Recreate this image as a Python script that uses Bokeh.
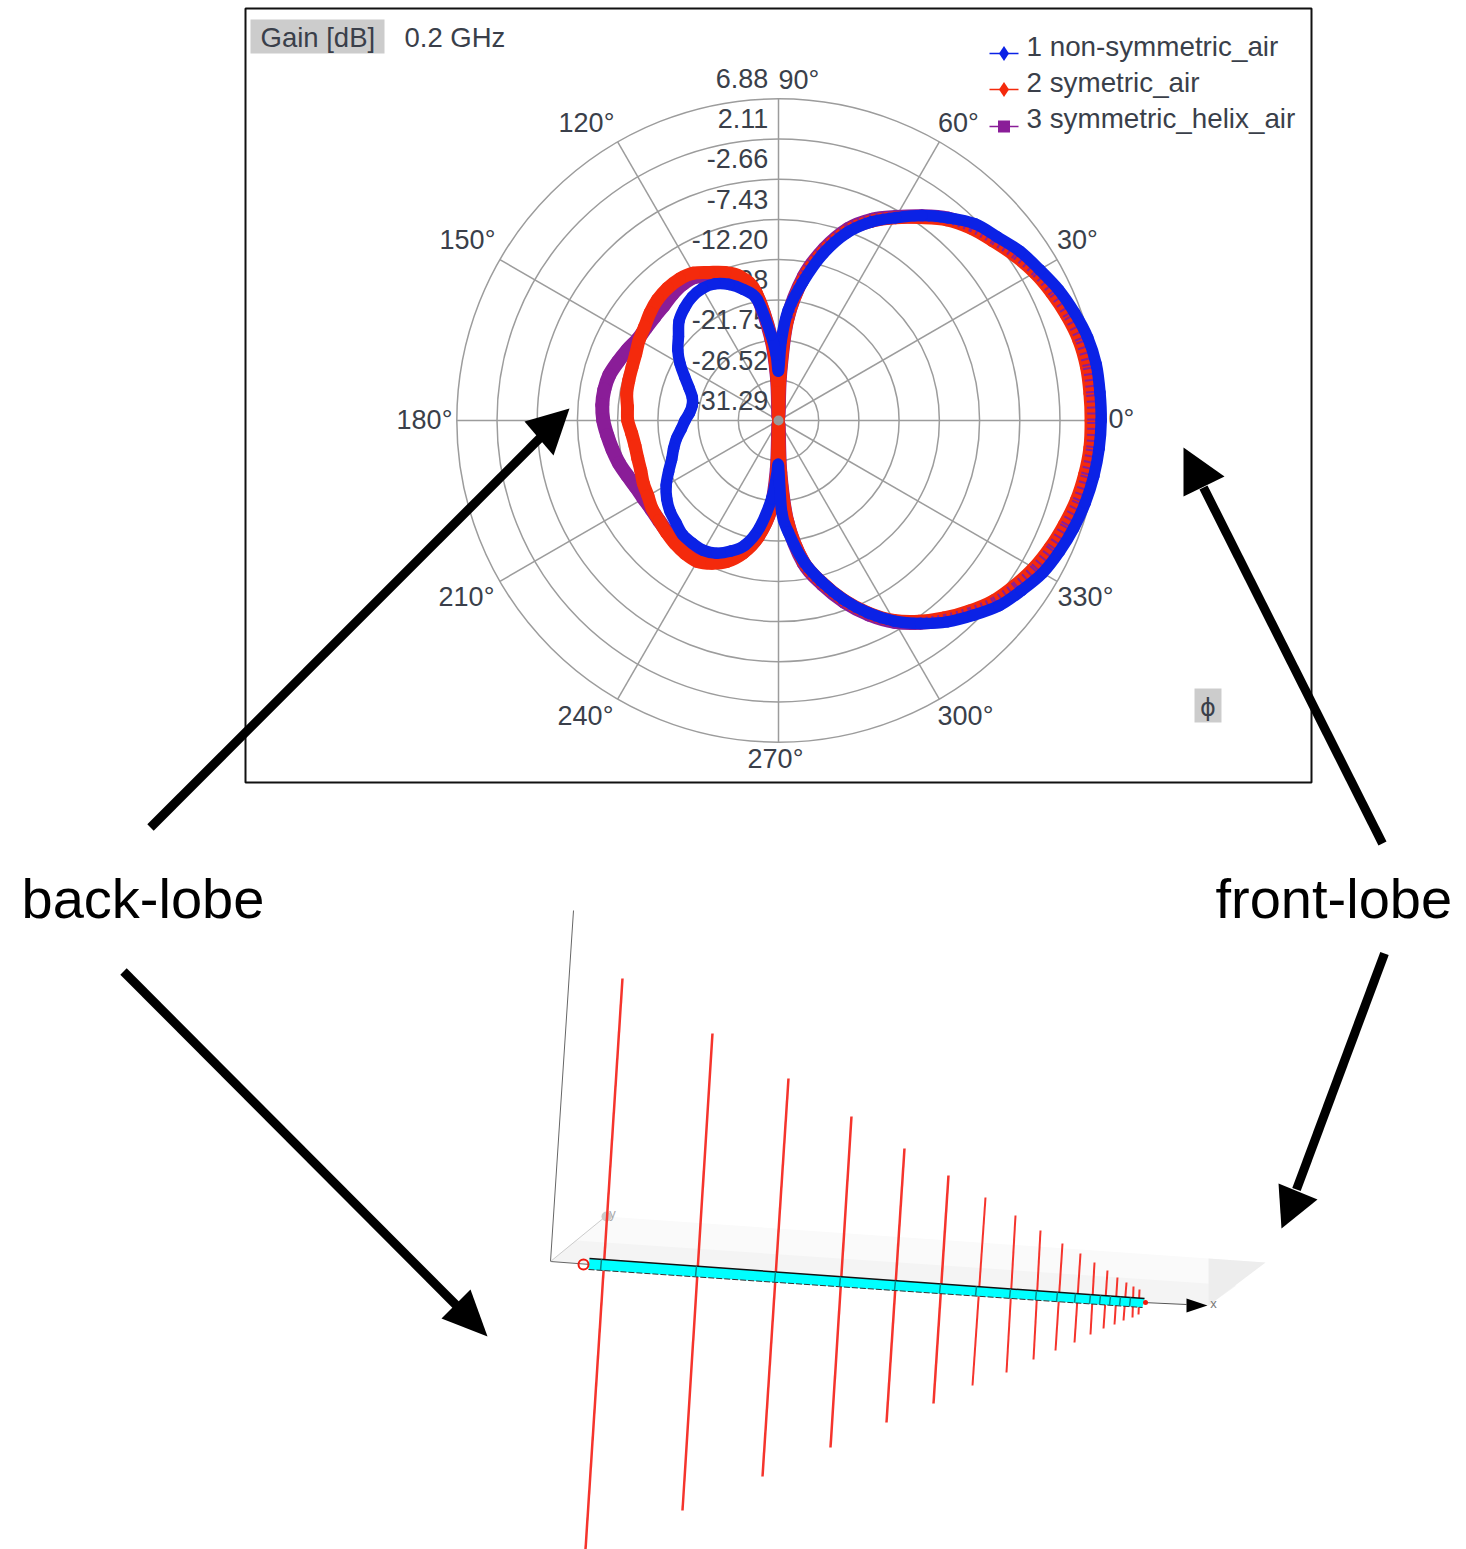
import numpy as np
from bokeh.plotting import figure
from bokeh.models import Range1d
from bokeh.core.properties import value
from bokeh.embed import file_html
from bokeh.resources import INLINE

# ---------- chart data ----------
ANGLES = [0,5,10,15,20,25,30,35,40,45,50,55,60,65,70,75,80,85,88,90,92,95,100,105,110,115,120,125,130,135,140,145,150,155,160,165,170,175,
          180,185,190,195,200,205,210,215,220,225,230,235,240,245,250,255,260,265,268,270,272,275,280,285,290,295,300,305,310,315,320,325,330,335,340,345,350,355]
NON_SYMMETRIC = [7.0,7.0,7.0,6.7,6.1,5.4,4.5,3.7,2.6,1.7,0.1,-1.6,-3.5,-5.3,-7.6,-10.8,-14.6,-18.2,-21.8,-25.4,-23.5,-21.1,-16.7,-15.2,-14.1,-13.4,-13.2,-13.4,-13.9,-14.6,-15.8,-16.7,-17.8,-19.0,-20.0,-20.7,-20.9,-20.7,
                 -20.2,-19.7,-19.0,-18.4,-17.8,-16.9,-15.9,-15.1,-14.5,-14.1,-13.6,-13.5,-13.5,-13.9,-14.8,-16.0,-18.4,-22.0,-24.7,-25.9,-20.4,-18.0,-14.4,-11.5,-8.7,-6.1,-3.8,-1.9,-0.1,1.4,2.9,3.9,4.9,5.5,6.0,6.4,6.7,6.9]
SYMETRIC = [5.8,5.8,5.8,5.6,5.1,4.5,3.8,2.9,1.9,1.0,-0.2,-1.9,-3.5,-5.2,-7.3,-10.4,-14.1,-19.4,-26.0,-31.0,-26.5,-21.6,-15.8,-13.6,-12.6,-11.9,-11.1,-10.8,-10.8,-11.0,-11.4,-11.9,-12.2,-12.6,-12.8,-12.9,-13.0,-13.3,
            -13.4,-13.8,-14.0,-14.0,-13.9,-13.6,-13.4,-13.0,-12.8,-12.5,-12.2,-12.0,-12.0,-12.6,-13.5,-15.0,-17.2,-20.6,-25.3,-30.9,-25.3,-19.4,-14.3,-11.4,-8.6,-6.1,-3.9,-2.2,-0.7,0.7,2.0,2.9,3.7,4.3,4.8,5.3,5.6,5.8]
SYMMETRIC_HELIX = [6.0,6.0,6.0,5.8,5.3,4.7,4.0,3.1,2.1,1.2,0.0,-1.7,-3.4,-5.0,-7.1,-10.2,-13.9,-19.2,-25.8,-30.8,-26.3,-21.6,-16.2,-14.2,-13.1,-12.4,-11.6,-11.5,-11.7,-12.0,-12.1,-12.1,-12.0,-11.5,-11.0,-10.5,-10.3,-10.3,
                   -10.5,-10.9,-11.3,-11.7,-12.2,-12.6,-12.8,-12.9,-12.8,-12.6,-12.4,-12.2,-12.2,-12.8,-13.7,-15.2,-17.4,-20.8,-25.5,-30.8,-25.1,-19.2,-14.1,-11.2,-8.4,-5.9,-3.7,-2.0,-0.5,0.9,2.2,3.1,3.9,4.5,5.0,5.5,5.8,6.0]
RING_GAINS = [6.88,2.11,-2.66,-7.43,-12.20,-16.98,-21.75,-26.52,-31.29]
RING_LABELS = ["6.88","2.11","-2.66","-7.43","-12.20","-16.98","-21.75","-26.52","-31.29"]
SPOKES = [0,30,60,90,120,150,180,210,240,270,300,330]
SERIES_NAMES = ["1 non-symmetric_air","2 symetric_air","3 symmetric_helix_air"]

# ---------- layout ----------
W, H = 1466, 1549
CX, CY = 778, 420
CENTER = RING_GAINS[-1]
SCALE = 40.2 / 4.77   # pixels per dB

p = figure(width=W, height=H, output_backend="svg", toolbar_location=None,
           x_axis_type=None, y_axis_type=None, min_border=0, outline_line_color=None,
           x_range=Range1d(-CX/SCALE, (W-CX)/SCALE),
           y_range=Range1d((CY-H)/SCALE, CY/SCALE))
p.grid.visible = False
p.extra_x_ranges["px"] = Range1d(0, W)
p.extra_y_ranges["px"] = Range1d(H, 0)
PX = dict(x_range_name="px", y_range_name="px")

TEXT_COL = "#3a3f4a"
FONT = value("Liberation Sans")

def polar(ang, gain):
    a = np.radians(np.asarray(ang, float))
    d = np.asarray(gain, float) - CENTER
    return d*np.cos(a), d*np.sin(a)

def smooth_curve(ang, gain, keep=None, **style):
    """Draw the read points joined by Bezier pieces."""
    x, y = polar(ang, gain)
    idx = np.arange(len(x))
    cx0 = x + (np.roll(x, -1) - np.roll(x, 1))/6
    cy0 = y + (np.roll(y, -1) - np.roll(y, 1))/6
    cx1 = np.roll(x, -1) - (np.roll(x, -2) - x)/6
    cy1 = np.roll(y, -1) - (np.roll(y, -2) - y)/6
    if keep is not None:
        idx = idx[keep]
    p.bezier(x0=x[idx], y0=y[idx], x1=np.roll(x, -1)[idx], y1=np.roll(y, -1)[idx],
             cx0=cx0[idx], cy0=cy0[idx], cx1=cx1[idx], cy1=cy1[idx], **style)

def label(x, y, s, size, color=TEXT_COL, align="left", font=FONT):
    p.text([x], [y], text=[s], text_font=font, text_font_size=f"{size}px", text_color=color,
           text_align=align, text_baseline="middle", **PX)

# panel
p.quad(left=[245], right=[1311], top=[8], bottom=[782], fill_color="white", line_color="#111111", line_width=2, **PX)
p.quad(left=[250], right=[384], top=[19], bottom=[53], fill_color="#cccccc", line_color=None, **PX)
p.quad(left=[1194], right=[1221], top=[688], bottom=[722], fill_color="#cccccc", line_color=None, **PX)
label(260, 37, "Gain [dB]", 27.5)
label(404, 37, "0.2 GHz", 27.5)
label(1207.5, 707, "ϕ", 24, align="center", font=value("DejaVu Sans"))

# grid
GRID = "#9c9c9c"
radii = [g - CENTER for g in RING_GAINS[:-1]]
p.circle(x=[0]*len(radii), y=[0]*len(radii), radius=radii, fill_color=None, line_color=GRID, line_width=1.5)
sx, sy = polar(SPOKES, [RING_GAINS[0]]*len(SPOKES))
p.segment(x0=[0]*len(SPOKES), y0=[0]*len(SPOKES), x1=sx, y1=sy, line_color=GRID, line_width=1.5)

# radial labels
for g, s in zip(RING_GAINS, RING_LABELS):
    p.text([-1.2], [(g-CENTER)+2.4], text=[s], text_font=FONT, text_font_size="27px", text_color=TEXT_COL,
           text_align="right", text_baseline="middle")
label(778, 79, "90°", 27, align="left")

# angle labels
ANG_TEXT = ["120°","60°","150°","30°","180°","0°","210°","330°","240°","300°","270°"]
ANG_X = [586,958,467,1077,424,1121,466,1085,585,965,775]
ANG_Y = [122,122,239,239,419,418,596,596,715,715,758]
for x, y, s in zip(ANG_X, ANG_Y, ANG_TEXT):
    label(x, y, s, 27, align="center")

# curves
front = (np.asarray(ANGLES) <= 80) | (np.asarray(ANGLES) >= 280)
smooth_curve(ANGLES, SYMMETRIC_HELIX, line_color="#8a1d98", line_width=14, line_cap="round")
smooth_curve(ANGLES, SYMETRIC, line_color="#f42a0c", line_width=13, line_cap="round")
smooth_curve(ANGLES, SYMMETRIC_HELIX, keep=front, line_color="#8a1d98", line_width=11, line_dash="2 4")
smooth_curve(ANGLES, NON_SYMMETRIC, line_color="#0b22e6", line_width=11.5, line_cap="round")
p.scatter([0], [0], size=10, marker="circle", fill_color="#999999", line_color=None)

# legend
LEG_Y_LINE = [53, 89, 126]
LEG_Y_TEXT = [46, 82, 118]
LEG_COL = ["#0b22e6", "#f42a0c", "#8a1d98"]
LEG_MARK = ["diamond", "diamond", "square"]
for yl, yt, c, m, s in zip(LEG_Y_LINE, LEG_Y_TEXT, LEG_COL, LEG_MARK, SERIES_NAMES):
    p.line([989, 1018], [yl, yl], line_color=c, line_width=1.5, **PX)
    p.scatter([1003.5], [yl], marker=m, size=15 if m == "diamond" else 12, fill_color=c, line_color=None, **PX)
    label(1026, yt, s, 27.8)

# ---------- antenna illustration ----------
p.patch([605,1265,1208,550], [1216,1262,1305,1261], fill_color="#fafafa", line_color=None, **PX)
p.patch([575,1236,1208,550], [1240,1285,1305,1261], fill_color="#f4f4f4", line_color=None, **PX)
p.patch([1208,1265,1208], [1258,1262,1305], fill_color="#ededed", line_color=None, **PX)
p.line([573,550,590], [910,1261,1264], line_color="#666666", line_width=1, **PX)
p.line([550,605], [1261,1216], line_color="#cccccc", line_width=1, **PX)
p.line([1143,1186], [1302,1304], line_color="#555555", line_width=1, **PX)
p.patch([1186,1207,1186], [1298,1305,1312], fill_color="black", line_color=None, **PX)
label(1213, 1303, "x", 13, color="#777777", align="center")
label(612, 1213, "y", 13, color="#aaaaaa", align="center")
p.scatter([606], [1216], size=10, marker="circle", fill_color="#cccccc", line_color=None, **PX)

TOP_X = [622,712,788,851,904,948,985,1015,1040,1062,1080,1094,1107,1117,1126,1133,1139]
TOP_Y = [978,1033,1078,1116,1148,1175,1197,1215,1230,1243,1253,1262,1270,1277,1282,1286,1289]
BOT_X = [585,682,762,830,886,933,972,1006,1033,1055,1074,1090,1103,1114,1123,1132,1138]
BOT_Y = [1549,1510,1476,1447,1422,1403,1385,1372,1359,1350,1342,1334,1328,1324,1320,1317,1314]
WID = [2.5,2.5,2.5,2.5,2.5,2.5,2,2,2,2,2,2,2,2,2,2,2]
p.segment(x0=TOP_X, y0=TOP_Y, x1=BOT_X, y1=BOT_Y, line_color="#f5342c", line_width=WID, **PX)

p.patch([589,1144,1142,588], [1258,1298,1307,1269], fill_color="#00ffff", line_color=None, **PX)
p.line([589,1144], [1258,1298], line_color="#111111", line_width=1.5, **PX)
p.line([588,1142], [1269,1307], line_color="#333333", line_width=1, line_dash="6 2", **PX)
BOOM_TICK_X = [601,696,775,840,895,940,976,1010,1036,1057,1075,1090,1100,1110,1120,1130]
for tx in BOOM_TICK_X:
    t = (tx-589)/(1144-589)
    p.line([tx, tx-1], [1258+40*t, 1269+38*t], line_color="#0a8a8a", line_width=1.5, **PX)
p.circle(x=[583], y=[1264], radius=5, fill_color=None, line_color="#f01c10", line_width=2, **PX)
p.scatter([1145], [1302], size=5, marker="circle", fill_color="#f01c10", line_color=None, **PX)

# ---------- arrows and captions ----------
ARROWS = [((150,827),(548,429),(569,408),(524,421),(553,455)),
          ((1382,843),(1203,487),(1183,447),(1183,496),(1224,476)),
          ((123,971),(465,1314),(487,1336),(441,1318),(470,1289)),
          ((1384,953),(1296,1189),(1281,1228),(1278,1183),(1317,1199))]
for a, b, tip, h1, h2 in ARROWS:
    p.line([a[0], b[0]], [a[1], b[1]], line_color="black", line_width=9, **PX)
    p.patch([tip[0], h1[0], h2[0]], [tip[1], h1[1], h2[1]], fill_color="black", line_color=None, **PX)

label(21, 898, "back-lobe", 56, color="#000000")
label(1215, 898, "front-lobe", 56, color="#000000")

open("out.html", "w").write(file_html(p, INLINE))
